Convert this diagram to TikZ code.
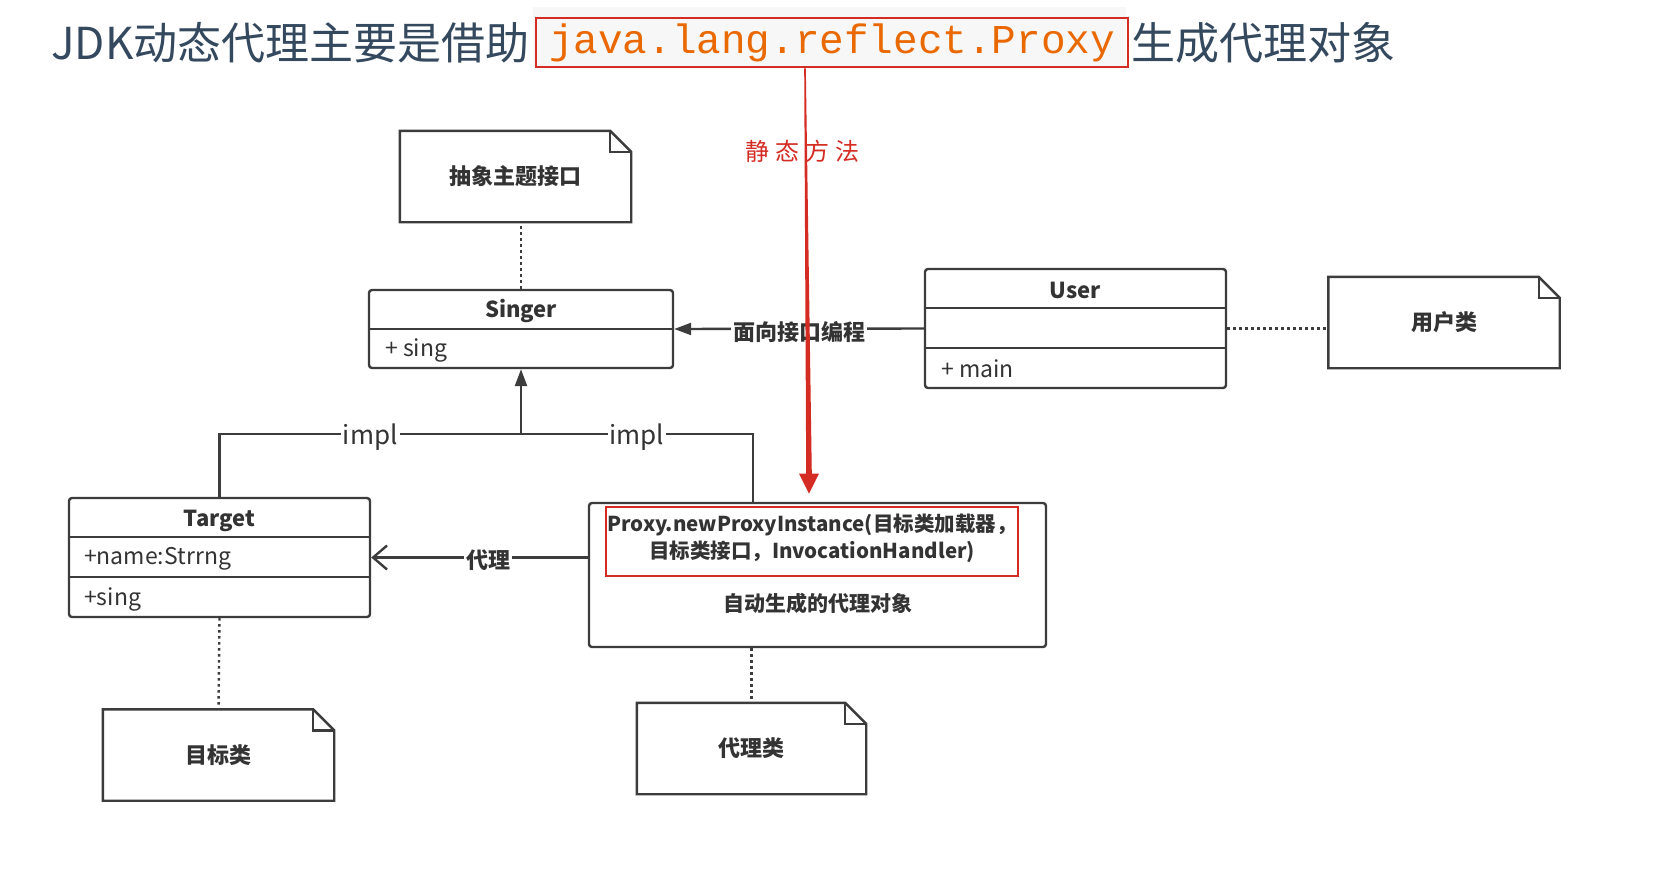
\documentclass[tikz,border=0pt]{standalone}
\usepackage{fontspec}
\setmainfont{Noto Sans CJK SC}
\newfontfamily\codefont{Liberation Mono}
\usetikzlibrary{arrows.meta,positioning}

\definecolor{titlegray}{HTML}{34495E}
\definecolor{codeorange}{HTML}{E96900}
\definecolor{codebg}{HTML}{F7F7F7}
\definecolor{markred}{HTML}{D42B22}
\definecolor{umlline}{HTML}{3C3C3C}
\definecolor{umltext}{HTML}{333333}

\newcommand{\notefold}[1]{%
  \draw[umlstroke] (#1.north west) -- ([xshift=-21pt]#1.north east) -- ([yshift=-21pt]#1.north east) -- (#1.south east) -- (#1.south west) -- cycle;
  \draw[umlstroke] ([xshift=-21pt]#1.north east) |- ([yshift=-21pt]#1.north east);
}

\begin{document}
\begin{tikzpicture}[x=1pt,y=-1pt,
	every node/.style={inner sep=0pt, text=umltext},
	umlstroke/.style={draw=umlline, line width=2.4pt},
	umldot/.style={dash pattern=on 2.4pt off 3.6pt},
	cls/.style={umlstroke, rounded corners=3pt},
	notebox/.style={minimum width=231pt, minimum height=91pt, font=\bfseries\fontsize{22}{26}\selectfont},
	hdr/.style={font=\bfseries\fontsize{22}{26}\selectfont},
	mbr/.style={anchor=west, font=\fontsize{23}{27}\selectfont},
	lbl/.style={fill=white, inner sep=2pt, yshift=-3pt, font=\bfseries\fontsize{22}{26}\selectfont},
	impllbl/.style={fill=white, inner sep=2pt, yshift=-3pt, font=\fontsize{26}{30}\selectfont},
	headline/.style={text=titlegray, font=\fontsize{44}{50}\selectfont},
	solidhead/.style={-{Triangle[length=17pt,width=12pt]}},
	openhead/.style={-{Straight Barb[length=14pt,width=24pt]}}]
	\fill[white] (0,0) rectangle (1673,881);
	\useasboundingbox (0,0) rectangle (1673,881);

	\fill[codebg] (533,7) rectangle (1126,67);
	\node[draw=markred, line width=2.6pt, minimum width=592pt, minimum height=49pt, text=codeorange, font=\codefont\fontsize{41}{41}\selectfont] (code) at (832,42.5) {java.lang.reflect.Proxy};
	\node[headline, left=5pt of code] (titleHead) {JDK动态代理主要是借助};
	\node[headline, right=2pt of code] (titleTail) {生成代理对象};

	\node[text=markred, font=\fontsize{24}{28}\selectfont] (staticLabel) at (802,151) {静\hspace{6pt}态\hspace{6pt}方\hspace{6pt}法};

	\node[notebox] (abstractNote) at (515.5,176.5) {抽象主题接口};
	\notefold{abstractNote}
	\node[notebox] (userNote) at (1444,322.5) {用户类};
	\notefold{userNote}
	\node[notebox] (targetNote) at (218.5,755) {目标类};
	\notefold{targetNote}
	\node[notebox, minimum width=229pt] (proxyNote) at (751.5,748.5) {代理类};
	\notefold{proxyNote}

	\node[cls, minimum width=304pt, minimum height=78pt] (singer) at (521,329) {};
	\draw[umlstroke] (singer.west |- 0,329) -- (singer.east |- 0,329);
	\node[hdr] (singerName) at (521,311) {Singer};
	\node[mbr] (singerOp) at (385,350) {+ sing};

	\node[cls, minimum width=301pt, minimum height=119pt] (user) at (1075.5,328.5) {};
	\draw[umlstroke] (user.west |- 0,308) -- (user.east |- 0,308);
	\draw[umlstroke] (user.west |- 0,348) -- (user.east |- 0,348);
	\node[hdr] (userName) at (1075.5,290) {User};
	\node[mbr] (userOp) at (941,369) {+ main};

	\node[cls, minimum width=301pt, minimum height=119pt] (target) at (219.5,557.5) {};
	\draw[umlstroke] (target.west |- 0,537) -- (target.east |- 0,537);
	\draw[umlstroke] (target.west |- 0,577) -- (target.east |- 0,577);
	\node[hdr] (targetName) at (219.5,521) {Target};
	\node[mbr] (targetAttr) at (84,559) {+name:Strrng};
	\node[mbr] (targetOp) at (84,599) {+sing};

	\node[cls, minimum width=457pt, minimum height=144pt] (proxy) at (817.5,575) {};
	\node[draw=markred, line width=2.6pt, minimum width=412pt, minimum height=69pt] (call) at (812,541.5) {};
	\node[align=center, yshift=3pt, font=\bfseries\fontsize{20.5}{27}\selectfont] (callText) at (call) {Proxy.newProxyInstance(目标类加载器，\\目标类接口，InvocationHandler)};
	\node[hdr, font=\bfseries\fontsize{21}{26}\selectfont] (proxyName) at (817.5,603) {自动生成的代理对象};

	\draw[umlstroke, umldot] (singer.north) -- (singer.north |- abstractNote.south);
	\draw[umlstroke, umldot] (user.east) -- (user.east -| userNote.west);
	\draw[umlstroke, umldot] (target.south) -- (targetNote.north);
	\draw[umlstroke, umldot] (proxyNote.north |- proxy.south) -- (proxyNote.north);

	\draw[umlstroke, solidhead] (user.west) -- node[lbl] {面向接口编程} (singer.east);

	\coordinate (implJoin) at (521,434);
	\coordinate (proxyStub) at ([xshift=-64.5pt]proxy.north);
	\draw[umlstroke] (target.north) |- node[impllbl, pos=0.75] {impl} (implJoin);
	\draw[umlstroke] (proxyStub) |- node[impllbl, pos=0.75] {impl} (implJoin);
	\draw[umlstroke, solidhead] (implJoin) -- (singer.south);

	\draw[umlstroke, openhead] (proxy.west |- target.east) -- node[lbl, pos=0.46] {代理} (target.east);

	\coordinate (staticFrom) at ([xshift=-27pt]code.south);
	\coordinate (staticTo) at ([xshift=-3pt,yshift=12pt]call.north);
	\fill[markred] ([xshift=-0.8pt]staticFrom) -- ([xshift=0.8pt]staticFrom) -- ([xshift=2.8pt,yshift=20pt]staticTo) -- ([xshift=10pt,yshift=20pt]staticTo) -- (staticTo) -- ([xshift=-10pt,yshift=20pt]staticTo) -- ([xshift=-2.8pt,yshift=20pt]staticTo) -- cycle;
\end{tikzpicture}
\end{document}
